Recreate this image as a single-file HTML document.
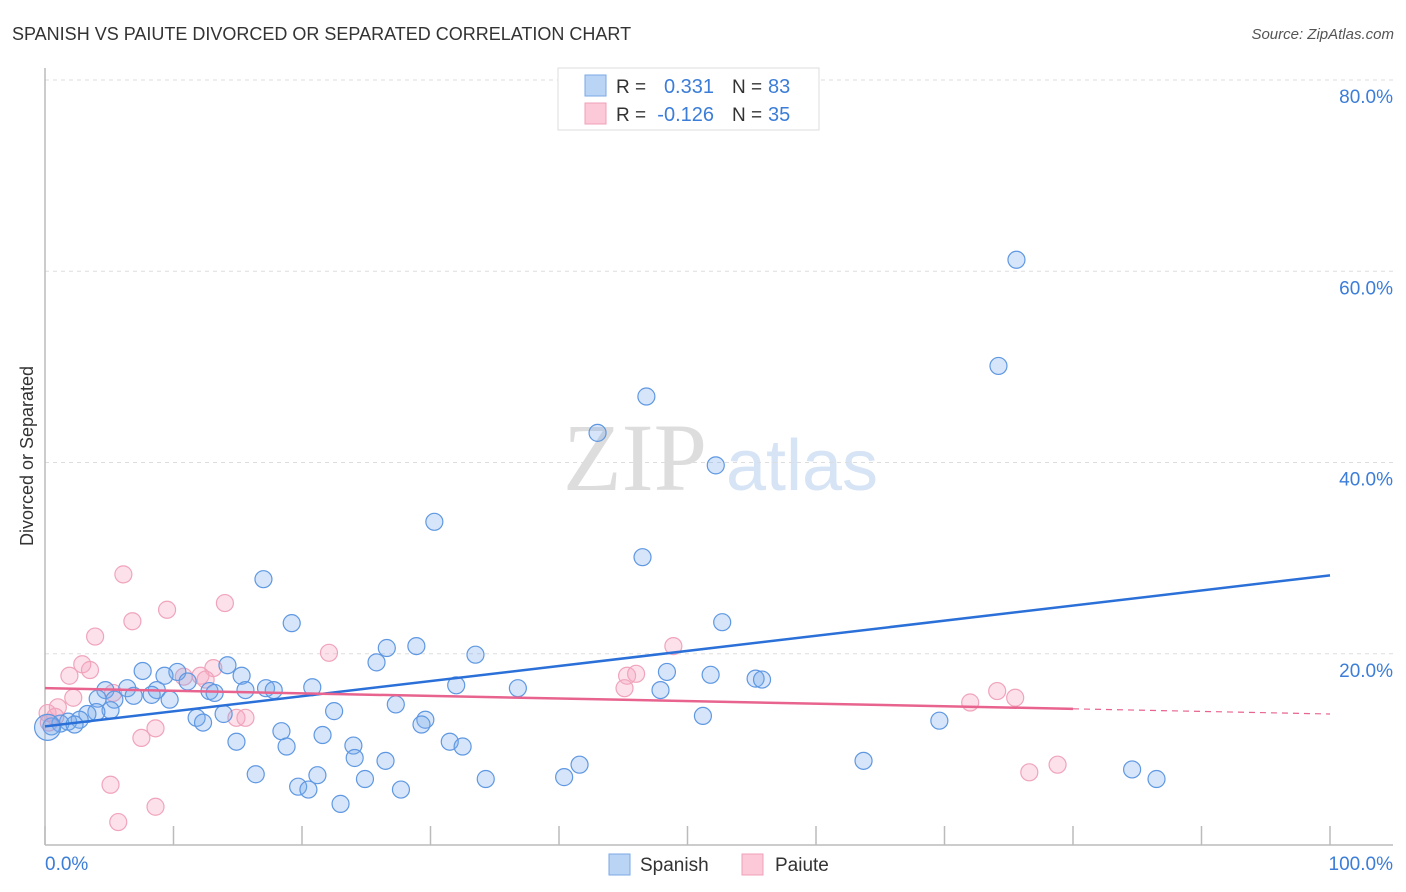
<!DOCTYPE html>
<html><head><meta charset="utf-8"><style>
body{margin:0;background:#fff;width:1406px;height:892px;overflow:hidden;font-family:"Liberation Sans",sans-serif}
svg{display:block}
</style></head><body>
<svg id="chart" width="1406" height="892">
<text x="12" y="40" font-size="18" fill="#333">SPANISH VS PAIUTE DIVORCED OR SEPARATED CORRELATION CHART</text>
<text x="1394" y="39" font-size="15" fill="#555" font-style="italic" text-anchor="end">Source: ZipAtlas.com</text>
<text x="0" y="0" font-size="18" fill="#333" text-anchor="middle" transform="translate(33,456) rotate(-90)">Divorced or Separated</text>
<g>
<text x="635" y="490" font-size="96" fill="#ddd" font-family="Liberation Serif,serif" text-anchor="middle">ZIP</text>
<text x="802" y="490" font-size="72" fill="#d6e4f5" text-anchor="middle">atlas</text>
</g>
<g id="grid"></g>
<g id="axes"></g>
<g id="pts"></g>
<g id="lines"></g>
<g>
<rect x="558" y="68" width="261" height="62" fill="#fff" stroke="#ddd"/>
<rect x="585" y="75" width="21" height="21" fill="#b9d4f5" stroke="#7aa9e6"/>
<rect x="585" y="103" width="21" height="21" fill="#fbc9d8" stroke="#f0a0b8"/>
<text x="616" y="93" font-size="19" fill="#333">R =</text>
<text x="714" y="93" font-size="20" fill="#3b7dd8" text-anchor="end">0.331</text>
<text x="732" y="93" font-size="19" fill="#333">N =</text>
<text x="768" y="93" font-size="20" fill="#3b7dd8">83</text>
<text x="616" y="121" font-size="19" fill="#333">R =</text>
<text x="714" y="121" font-size="20" fill="#3b7dd8" text-anchor="end">-0.126</text>
<text x="732" y="121" font-size="19" fill="#333">N =</text>
<text x="768" y="121" font-size="20" fill="#3b7dd8">35</text>
</g>
<g>
<rect x="609" y="854" width="21" height="21" fill="#b9d4f5" stroke="#7aa9e6"/>
<text x="640" y="871" font-size="19" fill="#333">Spanish</text>
<rect x="742" y="854" width="21" height="21" fill="#fbc9d8" stroke="#f0a0b8"/>
<text x="775" y="871" font-size="19" fill="#333">Paiute</text>
</g>
</svg>
<script>
const yTicks=[20,40,60,80];
const yTickLabels=["20.0%","40.0%","60.0%","80.0%"];
const xTickValues=[0,10,20,30,40,50,60,70,80,90,100];
const spanishX=[75.6,74.2,46.8,43.0,52.2,30.3,46.5,17.0,19.2,52.7,28.9,26.6,33.5,25.8,7.6,10.3,15.3,14.2,48.4,51.8,55.3,55.8,9.3,11.1,32.0,36.8,47.9,20.8,17.2,17.8,15.6,12.8,13.2,6.4,8.7,4.7,6.9,8.3,4.1,5.4,9.7,22.5,27.3,13.9,11.8,12.3,29.6,29.3,69.6,51.2,5.1,4.0,3.3,2.7,1.8,1.2,0.5,2.3,18.4,21.6,14.9,31.5,24.0,32.5,18.8,24.1,26.5,41.6,63.7,84.6,86.5,16.4,21.2,24.9,34.3,40.4,19.7,20.5,27.7,23.0,0.2];
const spanishY=[61.2,50.1,46.9,43.1,39.7,33.8,30.1,27.8,23.2,23.3,20.8,20.6,19.9,19.1,18.2,18.1,17.7,18.8,18.1,17.8,17.4,17.3,17.7,17.1,16.7,16.4,16.2,16.5,16.4,16.2,16.2,16.1,15.9,16.4,16.2,16.2,15.6,15.7,15.3,15.2,15.2,14.0,14.7,13.7,13.3,12.8,13.1,12.6,13.0,13.5,14.1,13.9,13.7,13.1,12.9,12.7,12.4,12.6,11.9,11.5,10.8,10.8,10.4,10.3,10.3,9.1,8.8,8.4,8.8,7.9,6.9,7.4,7.3,6.9,6.9,7.1,6.1,5.8,5.8,4.3,12.3];
const paiuteX=[6.1,9.5,14.0,6.8,3.9,2.9,3.5,1.9,22.1,48.9,13.1,12.1,12.5,10.8,5.3,2.2,1.0,0.2,0.8,14.9,15.6,8.6,7.5,45.3,46.0,45.1,72.0,74.1,75.5,76.6,78.8,5.1,8.6,5.7,0.3];
const paiuteY=[28.3,24.6,25.3,23.4,21.8,18.9,18.3,17.7,20.1,20.8,18.5,17.7,17.3,17.6,15.9,15.4,14.4,13.8,13.4,13.3,13.3,12.2,11.2,17.7,17.9,16.4,14.9,16.1,15.4,7.6,8.4,6.3,4.0,2.4,12.8];
const spanishTrend=[12.4,28.2];   // y at x=0, x=100
const paiuteTrend=[16.4,13.7];    // y at x=0, x=100
const paiuteSolidEnd=80;

const X0=45,X1=1330,Y0=845,Y1=80;
const sx=v=>X0+(X1-X0)*v/100;
const sy=v=>Y0-(Y0-Y1)*v/80;
const NS="http://www.w3.org/2000/svg";
function mk(tag,attrs,parent){const e=document.createElementNS(NS,tag);for(const k in attrs)e.setAttribute(k,attrs[k]);parent.appendChild(e);return e;}
const grid=document.getElementById('grid'),axes=document.getElementById('axes'),pts=document.getElementById('pts'),lines=document.getElementById('lines');
yTicks.forEach((t,i)=>{
  const l=mk('line',{x1:X0,x2:1393,y1:sy(t),y2:sy(t),stroke:'#ddd','stroke-dasharray':'4,4'},grid);
  
  
  const tx=mk('text',{x:1393,y:sy(t)+23,'font-size':19,fill:'#3b7dd8','text-anchor':'end'},grid);
  tx.textContent=yTickLabels[i];
  
  
});
const ya=mk('line',{x1:X0,x2:X0,y1:68,y2:Y0,stroke:'#bbb','stroke-width':1.5},axes);


const xa=mk('line',{x1:X0,x2:1393,y1:Y0,y2:Y0,stroke:'#bbb','stroke-width':1.5},axes);


xTickValues.forEach(v=>{
  const t=mk('line',{x1:sx(v),x2:sx(v),y1:826,y2:Y0,stroke:'#bbb','stroke-width':1.5},axes);
  
  
});
const xl0=mk('text',{x:45,y:870,'font-size':19,fill:'#3b7dd8'},axes);xl0.textContent='0.0%';


const xl1=mk('text',{x:1393,y:870,'font-size':19,fill:'#3b7dd8','text-anchor':'end'},axes);xl1.textContent='100.0%';


paiuteX.forEach((v,i)=>{
  const c=mk('circle',{cx:sx(v),cy:sy(paiuteY[i]),r:8.5,fill:'rgba(246,170,194,0.35)',stroke:'#f0a4bb','stroke-width':1.2},pts);
  
  
});
spanishX.forEach((v,i)=>{
  const big=i===spanishX.length-1;
  const c=mk('circle',{cx:sx(v),cy:sy(spanishY[i]),r:big?13:8.5,fill:'rgba(120,170,235,0.3)',stroke:'#5f98e2','stroke-width':1.2},pts);
  
  
});
const bl=mk('line',{x1:sx(0),y1:sy(spanishTrend[0]),x2:sx(100),y2:sy(spanishTrend[1]),stroke:'#2b70d8','stroke-width':2.5},lines);


const py=x=>paiuteTrend[0]+(paiuteTrend[1]-paiuteTrend[0])*x/100;
const pl=mk('line',{x1:sx(0),y1:sy(py(0)),x2:sx(paiuteSolidEnd),y2:sy(py(paiuteSolidEnd)),stroke:'#e8648f','stroke-width':2.5},lines);


const pd=mk('line',{x1:sx(paiuteSolidEnd),y1:sy(py(paiuteSolidEnd)),x2:sx(100),y2:sy(py(100)),stroke:'#e8648f','stroke-width':1.2,'stroke-dasharray':'6,5'},lines);


</script>
</body></html>
